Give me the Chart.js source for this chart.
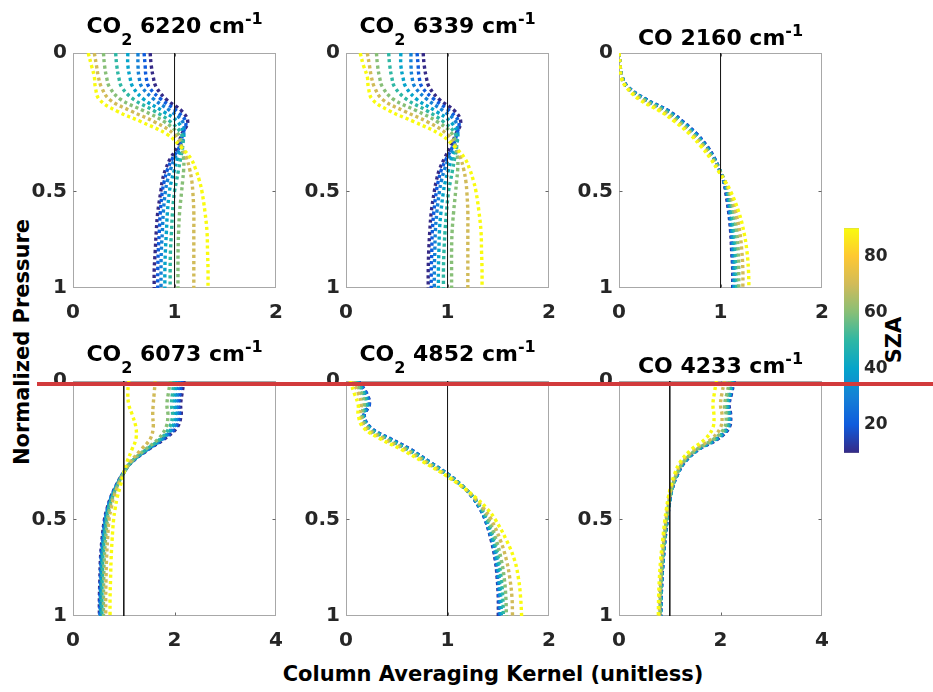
<!DOCTYPE html>
<html><head><meta charset="utf-8">
<script src="https://cdn.jsdelivr.net/npm/chart.js@4/dist/chart.umd.min.js"></script>
<style>
html,body{margin:0;padding:0;background:#fff;}
#fig{position:relative;width:933px;height:692px;overflow:hidden;background:#fff;font-family:"DejaVu Sans",sans-serif;}
canvas{position:absolute;}
.lbl{position:absolute;font-weight:bold;color:#000;white-space:nowrap;line-height:1;transform:translate(-50%,-50%);}
.rot{transform:translate(-50%,-50%) rotate(-90deg);}
#redline{position:absolute;left:37px;top:382px;width:896px;height:4px;background:#d23a3c;z-index:5;}
</style></head>
<body><div id="fig">
<div class="lbl rot" style="left:22px;top:342px;font-size:21px;">Normalized Pressure</div>
<div class="lbl" style="left:493px;top:674px;font-size:21px;">Column Averaging Kernel (unitless)</div>
<div class="lbl rot" style="left:894px;top:340px;font-size:21px;">SZA</div>
<div id="redline"></div>
</div>
<script>
// ---------------- data ----------------
const pressure = [0, 0.02, 0.05, 0.08, 0.12, 0.16, 0.2, 0.25, 0.3, 0.35, 0.4, 0.45, 0.5, 0.6, 0.7, 0.8, 0.9, 1.0];
const sza = [10, 20, 30, 40, 50, 60, 70, 90];
const szaRange = [10, 90];
const szaTicks = [20, 40, 60, 80];
const yTicks = [0, 0.5, 1];
const xTicksNarrow = [0, 1, 2];
const xTicksWide = [0, 2, 4];
const referenceLine = [1, 1];   // column AK = 1 at p = 0 and p = 1

const co2_6220 = [
  [0.76,0.77,0.79,0.82,0.92,1.07,1.13,1.07,1.03,0.96,0.91,0.88,0.865,0.835,0.82,0.81,0.80,0.80],
  [0.70,0.71,0.72,0.75,0.87,1.02,1.11,1.08,1.05,0.98,0.93,0.90,0.88,0.86,0.85,0.84,0.835,0.835],
  [0.64,0.64,0.65,0.68,0.80,0.96,1.08,1.09,1.06,1.00,0.96,0.93,0.91,0.89,0.88,0.87,0.867,0.867],
  [0.54,0.54,0.56,0.59,0.70,0.88,1.03,1.09,1.07,1.03,1.00,0.97,0.95,0.93,0.92,0.91,0.905,0.905],
  [0.42,0.43,0.45,0.48,0.60,0.80,0.96,1.07,1.08,1.06,1.04,1.02,1.00,0.98,0.97,0.96,0.957,0.957],
  [0.30,0.31,0.33,0.36,0.47,0.70,0.90,1.04,1.07,1.09,1.09,1.08,1.07,1.05,1.04,1.035,1.034,1.034],
  [0.21,0.23,0.25,0.28,0.36,0.57,0.80,1.00,1.07,1.12,1.15,1.17,1.18,1.19,1.19,1.19,1.19,1.19],
  [0.15,0.18,0.21,0.22,0.26,0.43,0.67,0.93,1.06,1.16,1.21,1.245,1.27,1.30,1.32,1.325,1.33,1.33]
];
const co2_6339 = [
  [0.76,0.77,0.79,0.82,0.92,1.07,1.13,1.08,1.03,0.97,0.92,0.89,0.87,0.84,0.825,0.815,0.81,0.81],
  [0.70,0.71,0.72,0.75,0.87,1.02,1.11,1.09,1.05,0.99,0.94,0.91,0.89,0.865,0.85,0.845,0.84,0.84],
  [0.64,0.64,0.65,0.68,0.80,0.96,1.08,1.10,1.06,1.01,0.97,0.94,0.92,0.895,0.88,0.875,0.87,0.87],
  [0.54,0.54,0.56,0.59,0.70,0.88,1.03,1.10,1.08,1.04,1.01,0.98,0.96,0.935,0.92,0.915,0.91,0.91],
  [0.42,0.43,0.45,0.48,0.60,0.80,0.96,1.08,1.09,1.07,1.05,1.03,1.01,0.99,0.975,0.965,0.96,0.96],
  [0.30,0.31,0.33,0.36,0.47,0.70,0.90,1.05,1.08,1.10,1.10,1.09,1.08,1.06,1.045,1.04,1.04,1.04],
  [0.21,0.23,0.25,0.28,0.36,0.57,0.80,1.00,1.08,1.13,1.16,1.18,1.19,1.20,1.20,1.20,1.20,1.20],
  [0.14,0.17,0.21,0.22,0.26,0.43,0.67,0.93,1.07,1.17,1.22,1.255,1.28,1.31,1.33,1.335,1.34,1.34]
];
const co_2160 = [
  [0,0.01,0.03,0.09,0.27,0.49,0.63,0.77,0.87,0.94,0.99,1.03,1.05,1.08,1.10,1.11,1.12,1.12],
  [0,0.01,0.03,0.09,0.27,0.49,0.63,0.77,0.87,0.94,0.99,1.03,1.055,1.085,1.105,1.115,1.125,1.125],
  [0,0.01,0.03,0.09,0.26,0.48,0.62,0.76,0.86,0.935,0.99,1.03,1.06,1.09,1.11,1.12,1.13,1.13],
  [0,0.01,0.03,0.085,0.26,0.47,0.61,0.75,0.855,0.93,0.99,1.035,1.065,1.10,1.12,1.135,1.14,1.14],
  [0,0.01,0.03,0.08,0.25,0.46,0.60,0.74,0.85,0.93,0.99,1.04,1.07,1.11,1.135,1.15,1.155,1.16],
  [0,0.01,0.025,0.08,0.24,0.44,0.59,0.73,0.84,0.92,0.985,1.04,1.08,1.13,1.16,1.175,1.18,1.18],
  [0,0.01,0.025,0.075,0.22,0.42,0.57,0.72,0.83,0.91,0.98,1.04,1.09,1.15,1.19,1.21,1.22,1.22],
  [0,0.01,0.02,0.07,0.20,0.40,0.55,0.70,0.81,0.90,0.97,1.04,1.10,1.18,1.23,1.26,1.275,1.28]
];
const co2_6073 = [
  [2.19,2.15,2.12,2.13,2.05,1.80,1.48,1.15,0.97,0.84,0.74,0.67,0.62,0.57,0.54,0.53,0.52,0.52],
  [2.15,2.11,2.08,2.10,2.02,1.78,1.47,1.15,0.97,0.845,0.745,0.68,0.63,0.58,0.55,0.54,0.53,0.53],
  [2.10,2.06,2.04,2.06,1.98,1.76,1.46,1.14,0.97,0.85,0.75,0.685,0.64,0.59,0.56,0.55,0.54,0.54],
  [2.04,2.01,2.00,2.02,1.95,1.74,1.45,1.14,0.975,0.855,0.76,0.69,0.645,0.60,0.57,0.56,0.55,0.55],
  [1.99,1.96,1.94,1.96,1.90,1.72,1.44,1.14,0.98,0.86,0.77,0.70,0.66,0.615,0.585,0.575,0.57,0.57],
  [1.92,1.88,1.85,1.87,1.83,1.68,1.42,1.14,0.98,0.87,0.78,0.72,0.68,0.64,0.615,0.605,0.60,0.60],
  [1.62,1.60,1.58,1.57,1.58,1.52,1.34,1.12,0.98,0.88,0.80,0.75,0.71,0.68,0.66,0.65,0.645,0.645],
  [1.10,1.08,1.10,1.17,1.24,1.24,1.16,1.06,0.99,0.93,0.87,0.83,0.80,0.77,0.75,0.74,0.73,0.73]
];
const co2_4852 = [
  [0.12,0.20,0.23,0.18,0.24,0.44,0.64,0.83,1.01,1.15,1.25,1.32,1.37,1.43,1.47,1.49,1.50,1.50],
  [0.12,0.20,0.23,0.18,0.24,0.44,0.64,0.83,1.01,1.15,1.25,1.32,1.37,1.435,1.475,1.495,1.505,1.51],
  [0.11,0.19,0.22,0.175,0.235,0.43,0.63,0.83,1.01,1.15,1.25,1.325,1.375,1.44,1.48,1.50,1.515,1.52],
  [0.11,0.18,0.21,0.17,0.23,0.42,0.62,0.82,1.00,1.15,1.255,1.33,1.38,1.45,1.49,1.51,1.525,1.53],
  [0.10,0.17,0.20,0.165,0.22,0.41,0.61,0.81,1.00,1.15,1.26,1.335,1.39,1.46,1.505,1.53,1.545,1.55],
  [0.08,0.15,0.18,0.155,0.21,0.39,0.60,0.80,0.99,1.145,1.26,1.345,1.405,1.48,1.53,1.56,1.575,1.58],
  [0.06,0.12,0.15,0.14,0.19,0.37,0.58,0.79,0.98,1.14,1.265,1.36,1.43,1.52,1.58,1.615,1.635,1.64],
  [0.04,0.08,0.12,0.12,0.17,0.34,0.55,0.77,0.97,1.14,1.28,1.39,1.47,1.58,1.66,1.70,1.72,1.73]
];
const co_4233 = [
  [2.27,2.22,2.17,2.20,2.17,1.95,1.56,1.29,1.15,1.06,1.01,0.98,0.95,0.905,0.87,0.845,0.83,0.82],
  [2.26,2.21,2.16,2.19,2.16,1.94,1.56,1.29,1.15,1.06,1.01,0.98,0.95,0.905,0.87,0.845,0.83,0.82],
  [2.25,2.20,2.15,2.18,2.15,1.93,1.55,1.28,1.15,1.06,1.01,0.98,0.95,0.90,0.87,0.845,0.83,0.82],
  [2.24,2.19,2.14,2.17,2.14,1.92,1.55,1.28,1.14,1.06,1.01,0.975,0.945,0.90,0.865,0.84,0.825,0.82],
  [2.22,2.17,2.12,2.15,2.12,1.90,1.54,1.27,1.14,1.055,1.005,0.97,0.94,0.895,0.86,0.835,0.82,0.815],
  [2.18,2.13,2.08,2.11,2.08,1.87,1.52,1.26,1.13,1.05,1.00,0.965,0.935,0.89,0.855,0.83,0.815,0.81],
  [2.08,2.03,2.00,2.03,2.00,1.82,1.49,1.24,1.12,1.04,0.99,0.955,0.925,0.88,0.845,0.82,0.80,0.80],
  [1.92,1.88,1.85,1.87,1.85,1.70,1.42,1.20,1.09,1.02,0.97,0.935,0.905,0.86,0.82,0.795,0.78,0.775]
];

// ---------------- styling / layout ----------------
const PARULA = ['#352a87','#0f5cdd','#1481d6','#06a4ca','#2eb7a4','#87bf77','#d1bb59','#fec832','#f9fb0e'];
function hexToRgb(h){return [1,3,5].map(i=>parseInt(h.substr(i,2),16));}
function parula(t){
  t = Math.min(1, Math.max(0, t));
  const n = PARULA.length - 1, f = t * n, i = Math.min(n - 1, Math.floor(f)), u = f - i;
  const a = hexToRgb(PARULA[i]), b = hexToRgb(PARULA[i + 1]);
  return 'rgb(' + a.map((c, k) => Math.round(c + (b[k] - c) * u)).join(',') + ')';
}

const K = 0.764;  // vertical stretch of the pressure axis (0.5 sits ~59% down)
class PowScale extends Chart.LinearScale {
  getPixelForValue(v) { return v == null ? NaN : super.getPixelForValue(Math.pow(Math.max(0, v), K)); }
  getValueForPixel(px) { return Math.pow(Math.max(0, super.getValueForPixel(px)), 1 / K); }
}
PowScale.id = 'pow';
PowScale.defaults = Chart.LinearScale.defaults;
Chart.register(PowScale);

const FAMILY = 'DejaVu Sans';
const TICK_COLOR = '#262626';
const BOX_COLOR = '#a8a8a8';

const richTitle = {
  id: 'richTitle',
  afterDraw(chart, args, o) {
    if (!o || !o.parts) return;
    const ctx = chart.ctx, a = chart.chartArea;
    const main = 'bold ' + o.size + 'px "' + FAMILY + '"';
    const small = 'bold ' + o.small + 'px "' + FAMILY + '"';
    ctx.save();
    let total = 0;
    const ws = o.parts.map(p => { ctx.font = p[1] ? small : main; const w = ctx.measureText(p[0]).width; total += w; return w; });
    const hasSub = o.parts.some(p => p[1] === 'sub');
    const base = a.top - o.gap - (hasSub ? o.subDrop : 0);
    let x = (a.left + a.right) / 2 - total / 2;
    ctx.fillStyle = '#000'; ctx.textAlign = 'left'; ctx.textBaseline = 'alphabetic';
    o.parts.forEach((p, i) => {
      ctx.font = p[1] ? small : main;
      const y = p[1] === 'sub' ? base + o.subDrop : (p[1] === 'sup' ? base - o.supRise : base);
      ctx.fillText(p[0], x, y);
      x += ws[i];
    });
    ctx.restore();
  }
};

const boxPlugin = {
  id: 'box',
  beforeDatasetsDraw(chart, args, o) {
    const ctx = chart.ctx, a = chart.chartArea;
    const l = Math.round(a.left) + 0.5, r = Math.round(a.right) - 0.5;
    const t = Math.round(a.top) + 0.5, b = Math.round(a.bottom) - 0.5;
    const tl = (o && o.tickLen) || 3;
    ctx.save();
    ctx.strokeStyle = BOX_COLOR; ctx.lineWidth = 1;
    ctx.strokeRect(l, t, r - l, b - t);
    ctx.beginPath();
    const xs = chart.scales.x, ys = chart.scales.y;
    if (xs && xs.options.display !== false) {
      xs.ticks.forEach(tk => {
        if (tk.value <= xs.min || tk.value >= xs.max) return;
        const px = Math.round(xs.getPixelForValue(tk.value)) + 0.5;
        ctx.moveTo(px, b); ctx.lineTo(px, b - tl);
        ctx.moveTo(px, t); ctx.lineTo(px, t + tl);
      });
    }
    if (ys) {
      ys.ticks.forEach(tk => {
        if (tk.value <= ys.min || tk.value >= ys.max) return;
        const py = Math.round(ys.getPixelForValue(tk.value)) + 0.5;
        ctx.moveTo(l, py); ctx.lineTo(l + tl, py);
        ctx.moveTo(r, py); ctx.lineTo(r - tl, py);
      });
    }
    ctx.strokeStyle = '#666';
    ctx.stroke();
    ctx.restore();
  }
};

const PLOT_W = 208, PLOT_H = 235;
const PAD_L = 70, PAD_T = 60, PAD_R = 15, PAD_B = 45;
const fig = document.getElementById('fig');

const panels = [
  { data: co2_6220, left: 73,  top: 53,  xMax: 2, xTicks: xTicksNarrow, title: [['CO'], ['2', 'sub'], [' 6220 cm'], ['-1', 'sup']] },
  { data: co2_6339, left: 346, top: 53,  xMax: 2, xTicks: xTicksNarrow, title: [['CO'], ['2', 'sub'], [' 6339 cm'], ['-1', 'sup']] },
  { data: co_2160,  left: 619, top: 53,  xMax: 2, xTicks: xTicksNarrow, title: [['CO 2160 cm'], ['-1', 'sup']] },
  { data: co2_6073, left: 73,  top: 381, xMax: 4, xTicks: xTicksWide,   title: [['CO'], ['2', 'sub'], [' 6073 cm'], ['-1', 'sup']] },
  { data: co2_4852, left: 346, top: 381, xMax: 2, xTicks: xTicksNarrow, title: [['CO'], ['2', 'sub'], [' 4852 cm'], ['-1', 'sup']] },
  { data: co_4233,  left: 619, top: 381, xMax: 4, xTicks: xTicksWide,   title: [['CO 4233 cm'], ['-1', 'sup']] }
];

const tickFont = { family: FAMILY, size: 20, weight: 'bold' };

panels.forEach(p => {
  const cv = document.createElement('canvas');
  cv.width = PAD_L + PLOT_W + PAD_R;
  cv.height = PAD_T + PLOT_H + PAD_B;
  cv.style.left = (p.left - PAD_L) + 'px';
  cv.style.top = (p.top - PAD_T) + 'px';
  fig.appendChild(cv);

  const datasets = [{
    data: referenceLine.map((xv, j) => ({ x: xv, y: j === 0 ? pressure[0] : pressure[pressure.length - 1] })),
    borderColor: '#1a1a1a', borderWidth: 1, pointRadius: 0, showLine: true, tension: 0, order: 0
  }];
  p.data.forEach((row, i) => {
    datasets.push({
      data: pressure.map((pv, j) => ({ x: row[j], y: pv })),
      borderColor: parula((sza[i] - szaRange[0]) / (szaRange[1] - szaRange[0])),
      borderWidth: 3.4, borderDash: [3.2, 3], borderCapStyle: 'butt',
      pointRadius: 0, showLine: true, tension: 0.4, order: sza.length - i
    });
  });

  new Chart(cv, {
    type: 'scatter',
    data: { datasets },
    plugins: [boxPlugin, richTitle],
    options: {
      responsive: false, animation: false, events: [],
      layout: { padding: { left: 0, top: PAD_T, right: PAD_R, bottom: 0 } },
      plugins: {
        legend: { display: false }, tooltip: { enabled: false },
        richTitle: { parts: p.title, size: 22, small: 16, gap: 8, subDrop: 12, supRise: 9 },
        box: { tickLen: 3 }
      },
      scales: {
        x: {
          type: 'linear', min: 0, max: p.xMax,
          afterBuildTicks: s => { s.ticks = p.xTicks.map(v => ({ value: v })); },
          afterFit: s => { s.height = PAD_B; },
          grid: { display: false, drawTicks: false }, border: { display: false },
          ticks: { padding: 13, color: TICK_COLOR, font: tickFont, maxRotation: 0, autoSkip: false, callback: v => String(v) }
        },
        y: {
          type: 'pow', min: 0, max: 1, reverse: true,
          afterBuildTicks: s => { s.ticks = yTicks.map(v => ({ value: v })); },
          afterFit: s => { s.width = PAD_L; },
          grid: { display: false, drawTicks: false }, border: { display: false },
          ticks: { padding: 6, color: TICK_COLOR, font: tickFont, autoSkip: false, callback: v => String(v) }
        }
      }
    }
  });
});

// ---------------- colour bar ----------------
(function () {
  const CB_L = 844, CB_T = 223, CB_W = 15, CB_H = 235, AX_W = 45, PADC = 10;
  const cv = document.createElement('canvas');
  cv.width = PADC + CB_W + AX_W; cv.height = PADC + CB_H + PADC;
  cv.style.left = (CB_L - PADC) + 'px'; cv.style.top = (CB_T - PADC) + 'px';
  fig.appendChild(cv);
  new Chart(cv, {
    type: 'bar',
    data: {
      labels: ['SZA'],
      datasets: [{
        data: [szaRange],
        backgroundColor: c => {
          const a = c.chart.chartArea; if (!a) return null;
          const g = c.chart.ctx.createLinearGradient(0, a.bottom, 0, a.top);
          PARULA.forEach((col, i) => g.addColorStop(i / (PARULA.length - 1), col));
          return g;
        },
        borderWidth: 0, barPercentage: 1, categoryPercentage: 1
      }]
    },
    plugins: [boxPlugin],
    options: {
      responsive: false, animation: false, events: [],
      layout: { padding: { left: PADC, top: PADC, right: 0, bottom: PADC } },
      plugins: { legend: { display: false }, tooltip: { enabled: false }, box: { tickLen: 3 } },
      scales: {
        x: { display: false },
        y: {
          position: 'right', min: szaRange[0], max: szaRange[1],
          afterBuildTicks: s => { s.ticks = szaTicks.map(v => ({ value: v })); },
          afterFit: s => { s.width = AX_W; },
          grid: { display: false, drawTicks: false }, border: { display: false },
          ticks: { padding: 5, color: TICK_COLOR, font: { family: FAMILY, size: 17, weight: 'bold' }, callback: v => String(v) }
        }
      }
    }
  });
})();
</script>
</body></html>
